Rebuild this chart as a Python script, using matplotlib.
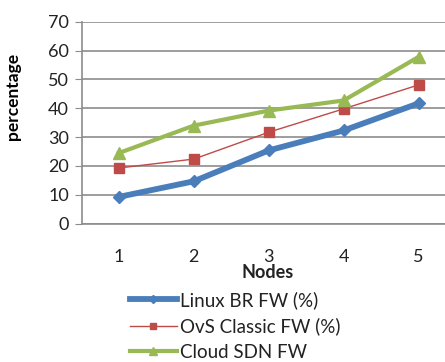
import matplotlib
matplotlib.use("Agg")
import matplotlib.pyplot as plt

nodes = [1, 2, 3, 4, 5]
linux_br = [9.3, 14.7, 25.4, 32.3, 41.7]
ovs_classic = [19.3, 22.4, 31.7, 39.8, 48.1]
cloud_sdn = [24.5, 34.0, 39.2, 42.7, 57.8]
series_names = ["Linux BR FW (%)", "OvS Classic FW (%)", "Cloud SDN FW"]
y_ticks = [0, 10, 20, 30, 40, 50, 60, 70]

plt.rcParams['font.family'] = ['Lato', 'DejaVu Sans']

W, H = 445, 362
fig = plt.figure(figsize=(W / 100, H / 100), dpi=100)
ax = fig.add_axes([81.5 / W, 1 - 223.7 / H, (456 - 81.5) / W, (223.7 - 21.7) / H])

ax.set_xlim(0.5, 5.5)
ax.set_ylim(0, 70)
ax.set_yticks(y_ticks)
ax.set_xticks(nodes)
ax.yaxis.grid(True, color="#8c8c8c", linewidth=1.2)
ax.set_axisbelow(True)

for side in ["top", "right"]:
    ax.spines[side].set_visible(False)
for side in ["left", "bottom"]:
    ax.spines[side].set_color("#8c8c8c")
    ax.spines[side].set_linewidth(1.2)

ax.tick_params(axis="y", length=5, color="#8c8c8c", labelsize=13, pad=4, labelcolor="#222222")
ax.tick_params(axis="x", length=0, labelsize=13, pad=18, labelcolor="#222222")

l1, = ax.plot(nodes, linux_br, color="#4a7ebb", linewidth=4.2, marker="D", markersize=6, clip_on=False)
l2, = ax.plot(nodes, ovs_classic, color="#be4b48", linewidth=1.0, marker="s", markersize=7, clip_on=False)
l3, = ax.plot(nodes, cloud_sdn, color="#98b954", linewidth=3.0, marker="^", markersize=9, clip_on=False)

ax.set_ylabel("percentage", fontsize=12.5, fontweight="bold")
ax.yaxis.set_label_coords(-61 / (456 - 81.5), 0.63)
fig.text(268 / W, 1 - 272 / H, "Nodes", ha="center", va="center", fontsize=13, fontweight="bold", color="#222222")

leg = fig.legend([l1, l2, l3], series_names, loc="upper left",
                 bbox_to_anchor=(130 / W, 1 - 291 / H), frameon=False,
                 fontsize=13.5, handlelength=2.5, handletextpad=0.15,
                 labelspacing=0.45, borderaxespad=0, borderpad=0, markerscale=0.65)
for t in leg.get_texts():
    t.set_color("#222222")

fig.savefig("out.png", dpi=100)
